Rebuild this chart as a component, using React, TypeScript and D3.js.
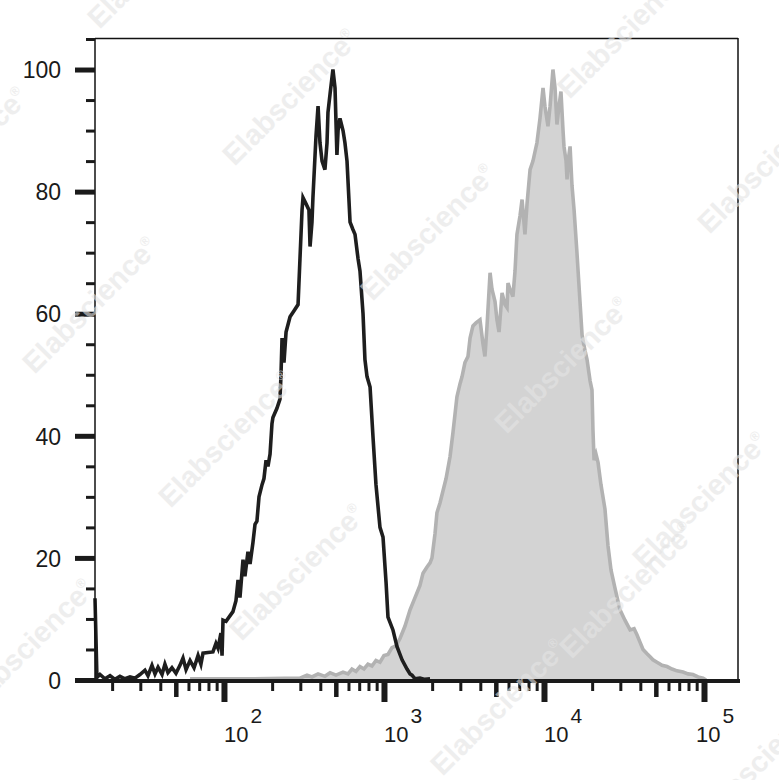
import { useEffect, useRef } from 'react';
import * as d3 from 'd3';

// log10 fluorescence (x) and % of max (y)
const isotypeLog = [
  1.194, 1.206, 1.225, 1.256, 1.288, 1.319, 1.35, 1.381, 1.413, 1.444, 1.475, 1.506, 1.525, 1.55, 1.569,
  1.588, 1.613, 1.631, 1.65, 1.675, 1.7, 1.725, 1.744, 1.763, 1.788, 1.813, 1.838, 1.856, 1.869, 1.9,
  1.931, 1.95, 1.963, 1.981, 1.988, 1.994, 2.013, 2.056, 2.075, 2.088, 2.1, 2.119, 2.131, 2.15, 2.163,
  2.181, 2.194, 2.206, 2.219, 2.238, 2.25, 2.263, 2.275, 2.288, 2.3, 2.306, 2.331, 2.35, 2.356, 2.363,
  2.375, 2.388, 2.413, 2.438, 2.463, 2.475, 2.488, 2.494, 2.513, 2.531, 2.538, 2.55, 2.556, 2.575, 2.588,
  2.6, 2.613, 2.631, 2.644, 2.65, 2.663, 2.681, 2.694, 2.706, 2.713, 2.725, 2.744, 2.756, 2.769, 2.788,
  2.806, 2.819, 2.838, 2.85, 2.869, 2.881, 2.894, 2.913, 2.931, 2.95, 2.975, 2.994, 3.013, 3.025, 3.056,
  3.081, 3.113, 3.144, 3.163, 3.175, 3.194, 3.225, 3.256, 3.288,
];
const isotypeCount = [
  13.4, 0.4, 0.9, 0.2, 0.7, 0.1, 0.6, 0.2, 0.5, 0.3, 0.9, 1.6, 0.7, 2.4, 1.0,
  2.1, 0.9, 2.6, 1.2, 2.0, 1.1, 2.4, 3.6, 1.7, 3.2, 2.0, 4.0, 2.6, 4.4, 4.5,
  4.6, 6.0, 5.2, 7.7, 4.0, 9.8, 9.6, 11.2, 13, 16.4, 13.5, 19.7, 17, 21, 19,
  22.5, 25.5, 26, 30, 32, 33, 36, 35, 37, 42, 43, 44.5, 46, 49.7, 56,
  52, 57, 59.5, 60.5, 61.5, 69, 77, 79, 78, 77, 71, 75, 79, 89, 94,
  88, 85, 83.6, 88, 93, 96, 100, 97, 86, 90, 92, 90, 88, 85, 75,
  73.8, 73, 69, 67, 60, 52.5, 49.7, 48, 40, 32, 25, 23.4, 16, 10.3, 8.2,
  5.5, 3.3, 1.8, 1.0, 0.8, 0.2, 0.3, 0.1, 0.2,
];

const stainedLog = [
  1.788, 2.163, 2.475, 2.519, 2.55, 2.588, 2.631, 2.663, 2.7, 2.744, 2.775, 2.8, 2.825, 2.85, 2.875,
  2.9, 2.925, 2.95, 2.975, 3.0, 3.025, 3.05, 3.075, 3.1, 3.131, 3.163, 3.194, 3.225, 3.244, 3.269,
  3.288, 3.3, 3.319, 3.331, 3.35, 3.369, 3.388, 3.413, 3.431, 3.456, 3.475, 3.488, 3.506, 3.525, 3.538,
  3.556, 3.575, 3.6, 3.619, 3.631, 3.644, 3.663, 3.675, 3.694, 3.706, 3.719, 3.738, 3.756, 3.769, 3.775,
  3.788, 3.806, 3.819, 3.831, 3.85, 3.863, 3.881, 3.894, 3.913, 3.931, 3.956, 3.975, 3.994, 4.006, 4.025,
  4.038, 4.056, 4.069, 4.081, 4.094, 4.106, 4.119, 4.125, 4.138, 4.144, 4.156, 4.163, 4.175, 4.188, 4.206,
  4.225, 4.238, 4.256, 4.269, 4.288, 4.3, 4.306, 4.313, 4.325, 4.338, 4.356, 4.381, 4.4, 4.419, 4.444,
  4.475, 4.506, 4.538, 4.563, 4.581, 4.6, 4.619, 4.644, 4.663, 4.681, 4.706, 4.738, 4.769, 4.8, 4.831,
  4.869, 4.9, 4.931, 4.963, 4.994, 5.013,
];
const stainedCount = [
  0.2, 0.2, 0.3, 0.8, 0.5, 1.0, 0.6, 1.2, 0.8, 1.3, 1.0, 1.8, 1.4, 2.2, 1.8,
  2.6, 2.3, 3.2, 2.9, 4.0, 4.2, 5.3, 5.6, 6.8, 8.8, 11.5, 13.5, 15.5, 17.5, 18.5,
  19.2, 20, 24, 27.4, 29, 31, 33, 36.6, 40.5, 46.4, 48.5, 49.7, 52, 53, 56,
  58, 58.5, 59, 55, 53, 58, 66.7, 64, 62, 59, 57, 63.4, 61.5, 61, 65,
  64, 62.8, 67, 73, 76, 78.7, 73, 78, 83.6, 85, 88, 92, 97, 94, 90.7,
  94, 100, 97, 91, 94, 96.4, 90, 87.4, 85, 82, 86, 87.4, 81, 77, 70,
  62, 56.5, 54, 52.5, 49, 47.5, 41, 36, 37, 35.6, 32, 28, 22, 18, 15,
  11.5, 9.8, 8.2, 8.4, 7.4, 6.2, 5.0, 4.3, 3.8, 3.3, 2.9, 2.4, 2.2, 1.8, 1.5,
  1.3, 1.0, 0.9, 0.5, 0.3, 0,
];

const yMajorTicks = [0, 20, 40, 60, 80, 100];
const yMinorTicks = [5, 10, 15, 25, 30, 35, 45, 50, 55, 65, 70, 75, 85, 90, 95, 105];
const xDecades = [2, 3, 4, 5];

const watermarks: [number, number][] = [
  [155, -40], [290, 97], [428, 232], [562, 365], [700, 500], [625, 30], [765, 165],
  [90, 305], [226, 439], [-40, 155], [297, 572], [627, 590], [498, 707], [26, 647], [760, 760],
];

const W = 779;
const H = 780;
const FONT = '"Liberation Sans", Arial, sans-serif';

export default function App() {
  const svgRef = useRef<SVGSVGElement>(null);

  useEffect(() => {
    if (!svgRef.current) return;
    const svg = d3.select(svgRef.current);
    svg.selectAll('*').remove();

    const left = 95, right = 738, top = 39, bottom = 680;

    const x = d3.scaleLog().domain([10 ** 1.194, 10 ** 5.2125]).range([left, right]);
    const y = d3.scaleLinear().domain([0, 105]).range([bottom, top]);

    const stained = stainedLog.map((v, i) => ({ fl: 10 ** v, c: stainedCount[i] }));
    const isotype = isotypeLog.map((v, i) => ({ fl: 10 ** v, c: isotypeCount[i] }));

    svg.append('rect').attr('width', W).attr('height', H).attr('fill', '#fff');

    // stained sample: filled grey histogram
    const area = d3.area<{ fl: number; c: number }>()
      .x(d => x(d.fl))
      .y0(y(0))
      .y1(d => y(d.c));
    svg.append('path')
      .datum(stained)
      .attr('d', area)
      .attr('fill', '#d3d3d3');
    const line = d3.line<{ fl: number; c: number }>()
      .x(d => x(d.fl))
      .y(d => y(d.c));
    svg.append('path')
      .datum(stained)
      .attr('d', line)
      .attr('fill', 'none')
      .attr('stroke', '#b2b2b2')
      .attr('stroke-width', 3.6);

    // isotype control: black outline
    svg.append('path')
      .datum(isotype)
      .attr('d', line)
      .attr('fill', 'none')
      .attr('stroke', '#1e1e1e')
      .attr('stroke-width', 3.6);

    // frame
    svg.append('line').attr('x1', left).attr('x2', right).attr('y1', top - 0.5).attr('y2', top - 0.5)
      .attr('stroke', '#111').attr('stroke-width', 1.5);
    svg.append('line').attr('x1', right).attr('x2', right).attr('y1', top - 1).attr('y2', bottom + 1)
      .attr('stroke', '#111').attr('stroke-width', 1.5);
    svg.append('line').attr('x1', left).attr('x2', left).attr('y1', top - 1).attr('y2', bottom + 1)
      .attr('stroke', '#111').attr('stroke-width', 1.5);

    // y ticks
    const yAxisMinor = d3.axisLeft(y).tickValues(yMinorTicks).tickSize(9).tickFormat(() => '');
    svg.append('g')
      .attr('transform', `translate(${left},0)`)
      .call(yAxisMinor)
      .call(g => g.select('.domain').remove())
      .call(g => g.selectAll('.tick line').attr('stroke', '#1a1a1a').attr('stroke-width', 3));
    const yAxisMajor = d3.axisLeft(y).tickValues(yMajorTicks).tickSize(20).tickPadding(14);
    svg.append('g')
      .attr('transform', `translate(${left},0)`)
      .call(yAxisMajor)
      .call(g => g.select('.domain').remove())
      .call(g => g.selectAll('.tick line').attr('stroke', '#1a1a1a').attr('stroke-width', 5))
      .call(g => g.selectAll('.tick text')
        .attr('fill', '#1a1a1a')
        .attr('font-family', FONT)
        .attr('font-size', 23)
        .attr('dy', '0.36em'));

    // x ticks (log decades with 2..9 minors, 5x medium)
    const minorX: number[] = [];
    const midX: number[] = [];
    for (let e = 1; e <= 4; e++) {
      for (let m = 2; m <= 9; m++) {
        const v = m * 10 ** e;
        if (v < x.domain()[0]) continue;
        if (m === 5) midX.push(v); else minorX.push(v);
      }
    }
    const majorX = xDecades.map(e => 10 ** e);
    const tickGroup = (vals: number[], len: number, w: number) => {
      const ax = d3.axisBottom(x).tickValues(vals).tickSize(len).tickFormat(() => '');
      svg.append('g')
        .attr('transform', `translate(0,${bottom + 1})`)
        .call(ax)
        .call(g => g.select('.domain').remove())
        .call(g => g.selectAll('.tick line').attr('stroke', '#1a1a1a').attr('stroke-width', w));
    };
    tickGroup(minorX, 10, 3);
    tickGroup(midX, 16, 4.5);
    tickGroup(majorX, 21, 6);

    // thick baseline axis
    svg.append('line').attr('x1', 75).attr('x2', right + 2).attr('y1', bottom + 1).attr('y2', bottom + 1)
      .attr('stroke', '#1a1a1a').attr('stroke-width', 4);

    // decade labels 10^n
    xDecades.forEach(e => {
      const tx = x(10 ** e) - (e === 5 ? 8 : 0);
      const t = svg.append('text')
        .attr('x', tx)
        .attr('y', 742)
        .attr('font-family', FONT)
        .attr('font-size', 22)
        .attr('fill', '#1a1a1a');
      t.append('tspan').text('10');
      t.append('tspan').attr('dx', 2).attr('dy', -19).attr('font-size', 21).text(String(e));
    });

    // watermark
    const wm = svg.append('g').attr('pointer-events', 'none');
    watermarks.forEach(([cx, cy]) => {
      const t = wm.append('text')
        .attr('transform', `translate(${cx},${cy}) rotate(-45)`)
        .attr('text-anchor', 'middle')
        .attr('dy', '0.35em')
        .attr('font-family', FONT)
        .attr('font-weight', 'bold')
        .attr('font-size', 29)
        .attr('fill', '#e4e4e4')
        .attr('opacity', 0.6);
      t.append('tspan').text('Elabscience');
      t.append('tspan').attr('font-size', 13).attr('dy', -12).text('®');
    });
  }, []);

  return (
    <svg
      ref={svgRef}
      width={W}
      height={H}
      style={{ position: 'absolute', left: 0, top: 0, display: 'block' }}
    />
  );
}
